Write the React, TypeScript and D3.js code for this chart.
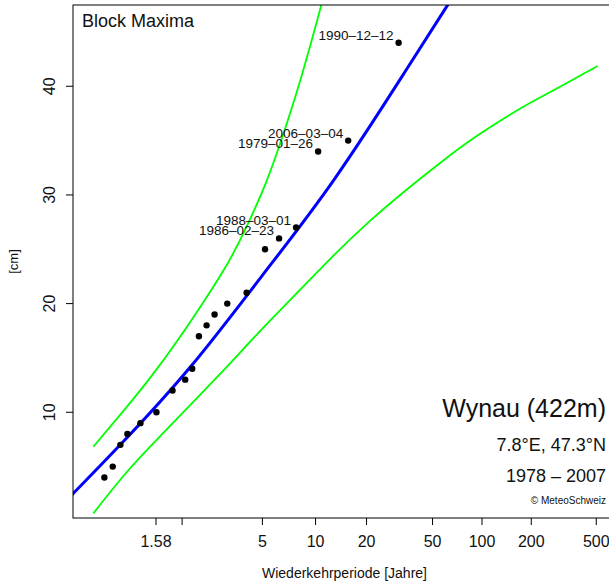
import React from "react";
import * as d3 from "d3";

// Observations: Gumbel reduced variate (plotting position) and block maxima [cm]
const obsVariate = [-0.731, -0.613, -0.505, -0.406, -0.222, 0.004, 0.231, 0.41, 0.509, 0.604, 0.712, 0.825, 1.004, 1.277, 1.537, 1.735, 1.976, 2.287, 2.711, 3.423];
const obsValue = [4, 5, 7, 8, 9, 10, 12, 13, 14, 17, 18, 19, 20, 21, 25, 26, 27, 34, 35, 44];
const obsLabel = ["", "", "", "", "", "", "", "", "", "", "", "", "", "", "", "1986–02–23", "1988–03–01", "1979–01–26", "2006–03–04", "1990–12–12"];

// Fitted return level curve (blue)
const fitVariate = [-1.3, -1.17, -0.5, 0.5, 1.5, 2.5, 3.5, 4.112, 4.3];
const fitValue = [1.6, 2.53, 7.05, 14.3, 22.6, 31.3, 41.2, 47.45, 49.4];

// Confidence band (green)
const upperVariate = [-0.887, -0.414, 0.0, 0.5, 1.0, 1.3, 1.542, 1.754, 2.037, 2.32, 2.45];
const upperValue = [6.83, 10.5, 13.9, 18.5, 23.6, 27.4, 31.0, 34.8, 40.6, 47.2, 50.5];
const lowerVariate = [-0.887, -0.414, 0.057, 0.5, 1.0, 1.5, 2.037, 2.5, 3.0, 3.5, 4.0, 4.5, 5.0, 5.29, 5.714, 6.233];
const lowerValue = [0.69, 4.5, 7.8, 10.8, 14.2, 17.7, 21.3, 24.4, 27.5, 30.3, 32.9, 35.3, 37.4, 38.5, 40.0, 41.87];

// Axis ticks
const xTickPeriods = [1.58, 2, 5, 10, 20, 50, 100, 200, 500];
const xTickLabels = ["1.58", "", "5", "10", "20", "50", "100", "200", "500"];
const yTicks = [10, 20, 30, 40];

const gumbel = (T: number) => -Math.log(-Math.log(1 - 1 / T));

const W = 609;
const H = 587;
const left = 73, right = 616, top = 5, bottom = 518;
const FONT = "'Liberation Sans', Arial, Helvetica, sans-serif";

export default function App() {
  const x = d3.scaleLinear().domain([-1.174, 6.492]).range([left, right]);
  const y = d3.scaleLinear().domain([0.27, 47.48]).range([bottom, top]);

  const mk = (xs: number[], ys: number[]) =>
    d3
      .line<number>()
      .x((_, i) => x(xs[i]))
      .y((_, i) => y(ys[i]))
      .curve(d3.curveNatural)(ys) || "";

  return (
    <svg width={W} height={H} style={{ display: "block", position: "absolute", left: 0, top: 0 }} fontFamily={FONT}>
      <defs>
        <clipPath id="plotclip">
          <rect x={left} y={top} width={right - left} height={bottom - top} />
        </clipPath>
      </defs>
      <rect x={0} y={0} width={W} height={H} fill="white" />
      <g clipPath="url(#plotclip)">
        <path d={mk(upperVariate, upperValue)} fill="none" stroke="#00ff00" strokeWidth={1.8} />
        <path d={mk(lowerVariate, lowerValue)} fill="none" stroke="#00ff00" strokeWidth={1.8} />
        <path d={mk(fitVariate, fitValue)} fill="none" stroke="#0000ff" strokeWidth={3} />
      </g>
      {obsValue.map((v, i) => (
        <circle key={i} cx={x(obsVariate[i])} cy={y(v)} r={3.2} fill="black" />
      ))}
      {obsValue.map((v, i) =>
        obsLabel[i] ? (
          <text key={"l" + i} x={x(obsVariate[i]) - 5} y={y(v) - 3} textAnchor="end" fontSize={13.5} fill="#111">
            {obsLabel[i]}
          </text>
        ) : null
      )}
      <rect x={left} y={top} width={right - left} height={bottom - top} fill="none" stroke="black" strokeWidth={1} />
      {/* x axis ticks */}
      {xTickPeriods.map((T, i) => (
        <g key={"xt" + i}>
          <line x1={x(gumbel(T))} x2={x(gumbel(T))} y1={bottom} y2={bottom + 7} stroke="black" />
          {xTickLabels[i] && (
            <text x={x(gumbel(T))} y={547} textAnchor="middle" fontSize={16} fill="#111">
              {xTickLabels[i]}
            </text>
          )}
        </g>
      ))}
      {/* y axis ticks */}
      {yTicks.map((v) => (
        <g key={"yt" + v}>
          <line x1={left - 7} x2={left} y1={y(v)} y2={y(v)} stroke="black" />
          <text transform={`translate(55,${y(v)}) rotate(-90)`} textAnchor="middle" fontSize={16} fill="#111">
            {v}
          </text>
        </g>
      ))}
      <text x={(left + right) / 2} y={578} textAnchor="middle" fontSize={14} fill="#111">
        Wiederkehrperiode [Jahre]
      </text>
      <text transform={`translate(18,${(top + bottom) / 2}) rotate(-90)`} textAnchor="middle" fontSize={13} fill="#111">
        [cm]
      </text>
      <text x={82} y={27} fontSize={18} fill="#111">
        Block Maxima
      </text>
      <text x={606} y={417} textAnchor="end" fontSize={25} fill="#111">
        Wynau (422m)
      </text>
      <text x={606} y={451} textAnchor="end" fontSize={18} fill="#111">
        7.8°E, 47.3°N
      </text>
      <text x={606} y={482} textAnchor="end" fontSize={18} fill="#111">
        1978 – 2007
      </text>
      <text x={606} y={504} textAnchor="end" fontSize={10} fill="#111">
        © MeteoSchweiz
      </text>
    </svg>
  );
}
